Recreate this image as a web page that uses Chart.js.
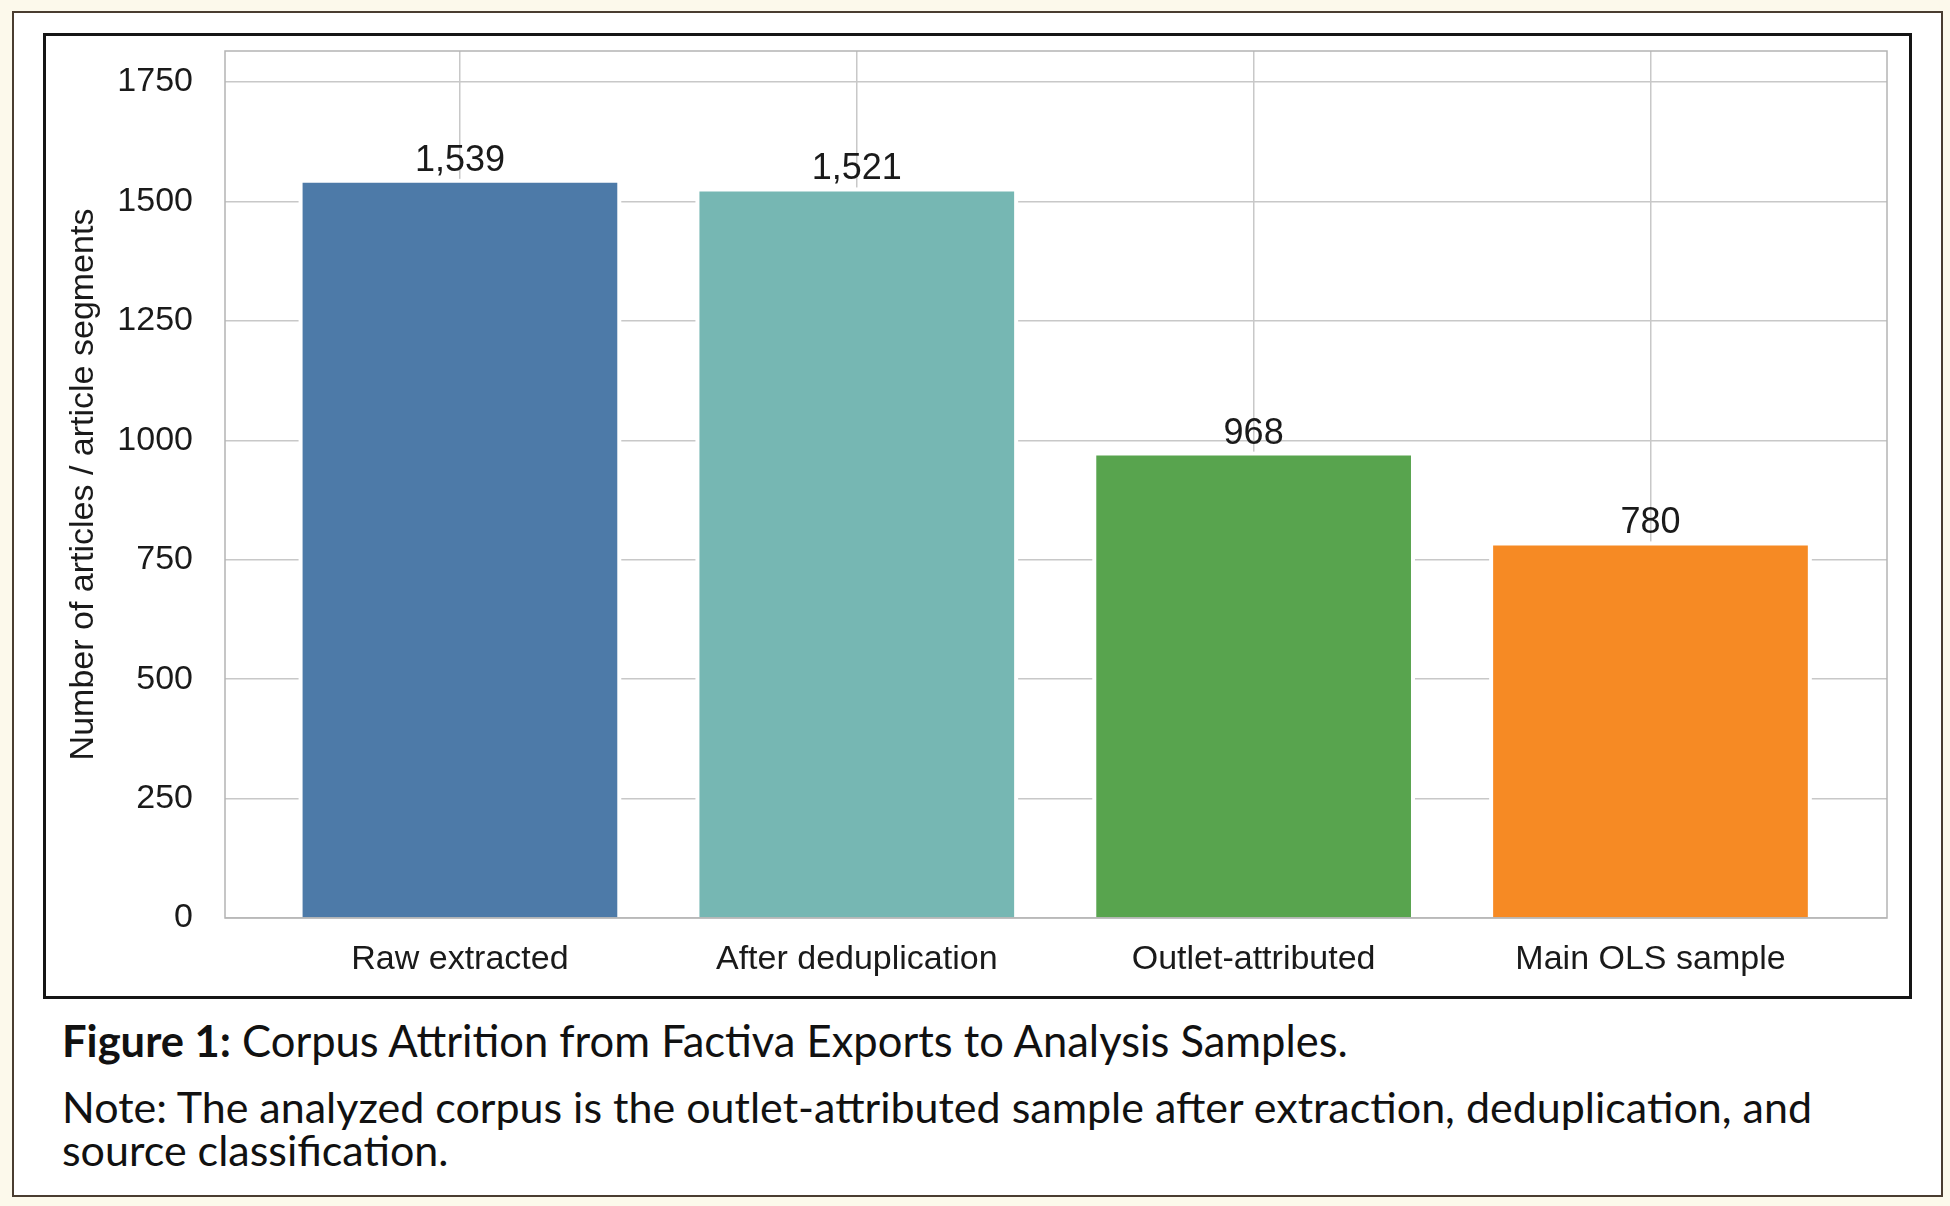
<!DOCTYPE html>
<html>
<head>
<meta charset="utf-8">
<script src="https://cdn.jsdelivr.net/npm/chart.js@4.4.1/dist/chart.umd.min.js"></script>
<style>
  html, body { margin: 0; padding: 0; }
  body { width: 1950px; height: 1206px; background: #fcf9eb; position: relative; overflow: hidden; }
  #frame { position: absolute; left: 12px; top: 11px; width: 1931px; height: 1186px; box-sizing: border-box;
           border: 2px solid #4a3d30; background: #fff; }
  #box { position: absolute; left: 43px; top: 33px; width: 1869px; height: 966px; box-sizing: border-box;
         border: 3px solid #151515; background: #fff; }
  #box canvas { display: block; }
  .cap { position: absolute; left: 62px; font-family: Lato, "Open Sans", sans-serif; color: #111; }
  #title { top: 1014px; font-size: 43.5px; line-height: 52px; }
  #title b { font-weight: 700; }
  #note { top: 1085px; width: 1860px; font-size: 43px; line-height: 43px; }
</style>
</head>
<body>
<div id="frame"></div>
<div id="box"><canvas id="chart" width="1863" height="960"></canvas></div>
<div class="cap" id="title"><b>Figure 1:</b> Corpus Attrition from Factiva Exports to Analysis Samples.</div>
<div class="cap" id="note">Note: The analyzed corpus is the outlet-attributed sample after extraction, deduplication, and<br>source classification.</div>
<script>
// corpus stages and article counts
const stages = ['Raw extracted', 'After deduplication', 'Outlet-attributed', 'Main OLS sample'];
const counts = [1539, 1521, 968, 780];
const barColors = ['#4d7aa8', '#76b7b3', '#58a44e', '#f68a24'];
const yTicks = [0, 250, 500, 750, 1000, 1250, 1500, 1750];

const font = 'Liberation Sans, Arial, Helvetica, sans-serif';

// white halo behind bars so grid lines stop short of them
const barHalo = {
  id: 'barHalo',
  beforeDatasetsDraw(chart) {
    const ctx = chart.ctx;
    ctx.save();
    ctx.fillStyle = '#ffffff';
    chart.getDatasetMeta(0).data.forEach(bar => {
      const w = bar.width;
      ctx.fillRect(bar.x - w / 2 - 4, bar.y - 4, w + 8, bar.base - bar.y + 3);
    });
    ctx.restore();
  }
};

// value labels over the bars + grey frame round the plot
const valueLabels = {
  id: 'valueLabels',
  afterDatasetsDraw(chart) {
    const ctx = chart.ctx;
    const a = chart.chartArea;
    ctx.save();
    ctx.strokeStyle = '#b4b4b4';
    ctx.lineWidth = 1.5;
    ctx.strokeRect(a.left, a.top, a.right - a.left, a.bottom - a.top);
    ctx.font = '36px ' + font;
    ctx.fillStyle = '#1a1a1a';
    ctx.textAlign = 'center';
    ctx.textBaseline = 'alphabetic';
    chart.getDatasetMeta(0).data.forEach((bar, i) => {
      ctx.fillText(counts[i].toLocaleString('en-US'), bar.x, bar.y - 12);
    });
    ctx.restore();
  }
};

const ctx = document.getElementById('chart').getContext('2d');
const chart = new Chart(ctx, {
  type: 'bar',
  data: {
    datasets: [{
      data: counts.map((v, i) => ({ x: i, y: v })),
      backgroundColor: barColors,
      borderWidth: 0,
      categoryPercentage: 1,
      barPercentage: 0.793
    }]
  },
  options: {
    responsive: false,
    animation: false,
    layout: { padding: { top: 15, right: 22, left: 0, bottom: 0 } },
    plugins: { legend: { display: false }, tooltip: { enabled: false } },
    scales: {
      x: {
        type: 'linear',
        offset: false,
        min: -0.592,
        max: 3.596,
        afterBuildTicks: (scale) => { scale.ticks = stages.map((s, i) => ({ value: i })); },
        afterFit: (scale) => { scale.height = 78; scale.paddingLeft = 0; scale.paddingRight = 0; },
        grid: { color: '#c8c8c8', lineWidth: 1.5, drawTicks: false, offset: false },
        border: { display: false },
        ticks: {
          padding: 21,
          color: '#1a1a1a',
          font: { family: font, size: 34 },
          maxRotation: 0,
          autoSkip: false,
          callback: (v) => stages[v]
        }
      },
      y: {
        min: 0,
        max: 1815,
        afterBuildTicks: (scale) => { scale.ticks = yTicks.map(v => ({ value: v })); },
        afterFit: (scale) => { scale.width = 179; scale.paddingTop = 0; scale.paddingBottom = 0; },
        grid: { color: '#c8c8c8', lineWidth: 1.5, drawTicks: false },
        border: { display: false },
        ticks: {
          padding: 32,
          color: '#1a1a1a',
          font: { family: font, size: 34 },
          callback: (v) => String(v)
        },
        title: {
          display: true,
          text: 'Number of articles / article segments',
          color: '#1a1a1a',
          font: { family: font, size: 34 },
          padding: { top: 17, bottom: 4 }
        }
      }
    }
  },
  plugins: [barHalo, valueLabels]
});
</script>
</body>
</html>
